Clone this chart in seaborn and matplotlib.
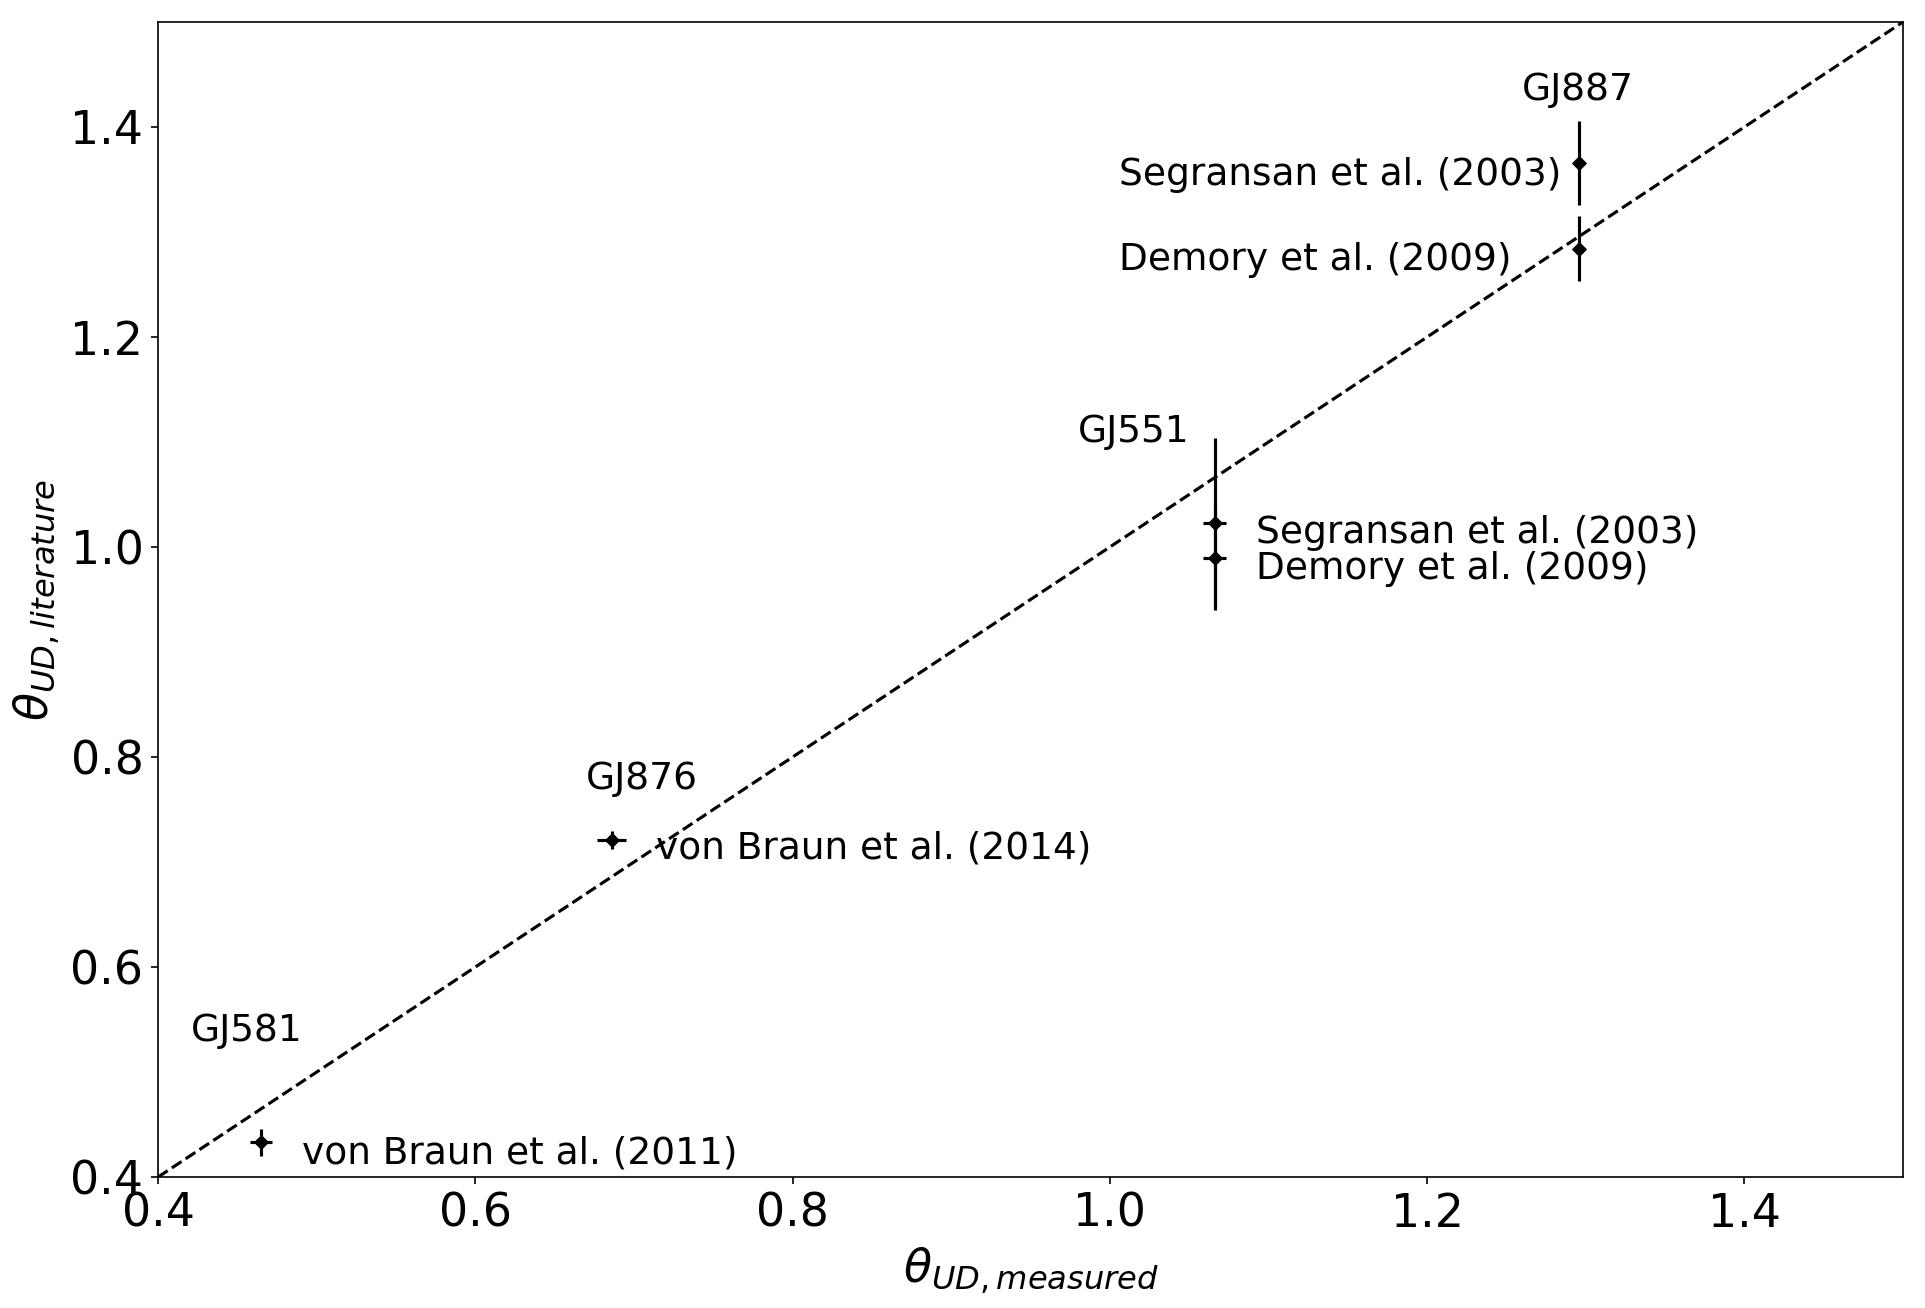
import numpy as np
import pandas as pd
import matplotlib
matplotlib.use("Agg")
import matplotlib.pyplot as plt
import seaborn as sns

# data
stars = ["GJ887", "GJ887", "GJ551", "GJ551", "GJ876", "GJ581"]
refs = ["Segransan et al. (2003)", "Demory et al. (2009)",
        "Segransan et al. (2003)", "Demory et al. (2009)",
        "von Braun et al. (2014)", "von Braun et al. (2011)"]
theta_measured = [1.296, 1.296, 1.066, 1.066, 0.686, 0.465]
theta_measured_err = [0.002, 0.002, 0.007, 0.007, 0.009, 0.007]
theta_literature = [1.366, 1.284, 1.023, 0.990, 0.721, 0.433]
theta_literature_err = [0.040, 0.031, 0.081, 0.050, 0.009, 0.013]

star_names = ["GJ887", "GJ551", "GJ876", "GJ581"]
star_label_x = [1.26, 0.98, 0.670, 0.421]
star_label_y = [1.426, 1.100, 0.770, 0.530]
ref_label_x = [1.006, 1.006, 1.092, 1.092, 0.714, 0.491]
ref_label_y = [1.345, 1.264, 1.004, 0.970, 0.703, 0.413]

one_to_one = [0.4, 1.5]

df = pd.DataFrame({"star": stars, "ref": refs, "x": theta_measured,
                   "xerr": theta_measured_err, "y": theta_literature,
                   "yerr": theta_literature_err})

sns.set_style("ticks")
plt.rcParams['font.family'] = ['DejaVu Sans']
plt.rcParams.update({"text.color": "black", "axes.labelcolor": "black",
                     "xtick.color": "black", "ytick.color": "black",
                     "axes.edgecolor": "black"})

fig = plt.figure(figsize=(1925/150, 1308/150), dpi=150)
ax = fig.add_axes([0.0821, 0.1001, 0.9065, 0.8831])

sns.lineplot(x=one_to_one, y=one_to_one, ax=ax, color="black",
             linestyle="--", linewidth=1.5)
ax.errorbar(df["x"], df["y"], xerr=df["xerr"], yerr=df["yerr"],
            fmt="none", ecolor="black", elinewidth=1.5, capsize=0)
sns.scatterplot(data=df, x="x", y="y", ax=ax, marker="D", s=22,
                color="black", edgecolor="black", linewidth=0.5, zorder=5)

for name, tx, ty in zip(star_names, star_label_x, star_label_y):
    ax.text(tx, ty, name, fontsize=18, ha="left", va="baseline", color="black")
for r, tx, ty in zip(refs, ref_label_x, ref_label_y):
    ax.text(tx, ty, r, fontsize=18, ha="left", va="baseline", color="black")

ax.set_xlim(0.4, 1.5)
ax.set_ylim(0.4, 1.5)
ax.set_xticks([0.4, 0.6, 0.8, 1.0, 1.2, 1.4])
ax.set_yticks([0.4, 0.6, 0.8, 1.0, 1.2, 1.4])
ax.tick_params(labelsize=22, length=3.5, width=0.8, color="black",
               labelcolor="black")
for s in ax.spines.values():
    s.set_color("black")
    s.set_linewidth(0.8)
ax.set_xlabel(r"$\theta_{UD, measured}$", fontsize=22, color="black")
ax.set_ylabel(r"$\theta_{UD, literature}$", fontsize=22, color="black")

fig.savefig("out.png", dpi=150)
